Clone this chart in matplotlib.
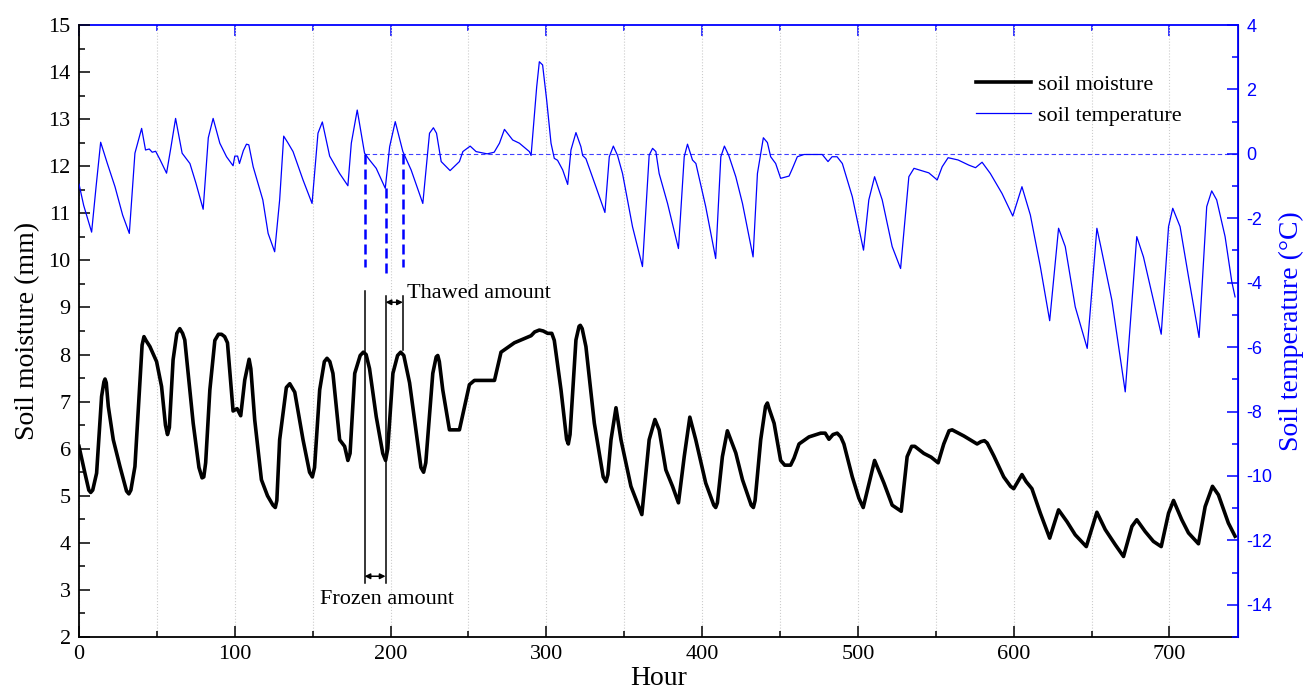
import numpy as np
import matplotlib
matplotlib.use("Agg")
import matplotlib.pyplot as plt
from matplotlib.ticker import MultipleLocator

# soil moisture (mm)
moist_hour = [0, 3.8, 6.3, 7.5, 8.8, 11.3, 14.5, 16, 16.7, 17.5, 18.8, 22, 26.3, 30.5, 32, 33.3,
              35.9, 39.1, 40.5, 41.7, 43, 45.5, 49.8, 53, 55.5, 56.8, 58, 60.4, 62.8, 64.7, 66.5,
              67.9, 73.3, 77, 79, 80.1, 81.3, 84, 87.2, 89.5, 91.5, 93.5, 95.3, 98.9, 101.5, 103.8,
              106.4, 109.2, 110.3, 112.8, 117.1, 121, 124.5, 126, 127, 128.8, 133.1, 135.3, 138.5,
              143.8, 148, 149.8, 151.2, 154.5, 157.5, 159.2, 161, 163, 167.3, 170.5, 172.6, 174,
              177, 180.5, 182.5, 184.3, 186.5, 190.8, 195, 196.8, 198.2, 201.5, 204.5, 206.5,
              208.5, 212.2, 216.5, 219.5, 221.2, 222.6, 227.1, 229.3, 230.3, 231.3, 233.5, 237.8,
              244.2, 250.6, 253.8, 266.7, 270.9, 279.5, 290.2, 292.5, 295.5, 298, 300.8, 303.5,
              305.1, 309.4, 313, 314.1, 315.2, 319, 321, 321.8, 323, 325.4, 330.8, 336.5, 338.3,
              339.5, 341.5, 344.7, 347.9, 354.3, 361.3, 366, 369.7, 372.4, 376.7, 381, 384.8,
              388.5, 392.1, 395.9, 402.3, 407.5, 408.7, 409.8, 413, 416.2, 421.6, 425.9, 431.5,
              432.9, 434, 437.6, 440.7, 441.9, 443, 446.2, 450.4, 453, 456.8, 459, 462.2, 468.6,
              476.1, 479, 481.4, 484, 486.7, 489, 491, 496.4, 500.6, 503.4, 510.7, 516.7, 522,
              527.8, 531.6, 534.5, 536.5, 542.3, 547, 551.5, 555.1, 558.5, 560.5, 568, 576.5, 579,
              581.2, 583, 587.2, 593.6, 598, 600, 605.3, 608, 611.7, 617.1, 623.1, 628.8, 634.2,
              639.5, 646.6, 653.4, 658.8, 665.2, 670.5, 675.9, 679, 684.4, 689.7, 694.7, 699.4,
              702.6, 707.9, 712.2, 718.6, 722.9, 727.6, 731.4, 737.8, 742.1]
moist_mm = [6.05, 5.48, 5.12, 5.07, 5.12, 5.48, 7.11, 7.42, 7.48, 7.4, 6.9, 6.19, 5.62, 5.1, 5.04, 5.12,
            5.62, 7.39, 8.2, 8.38, 8.3, 8.17, 7.85, 7.32, 6.5, 6.3, 6.45, 7.89, 8.45, 8.55, 8.45,
            8.31, 6.54, 5.6, 5.38, 5.4, 5.7, 7.25, 8.3, 8.43, 8.43, 8.38, 8.25, 6.8, 6.85, 6.7,
            7.46, 7.9, 7.7, 6.61, 5.34, 5.0, 4.8, 4.75, 4.9, 6.19, 7.3, 7.38, 7.2,
            6.19, 5.5, 5.4, 5.6, 7.25, 7.85, 7.92, 7.85, 7.6, 6.19, 6.05, 5.75, 5.9,
            7.6, 7.98, 8.05, 8.0, 7.7, 6.68, 5.9, 5.75, 6.0, 7.6, 7.98, 8.05,
            7.98, 7.4, 6.33, 5.6, 5.5, 5.7, 7.6, 7.95, 7.98, 7.85, 7.25, 6.4,
            6.4, 7.36, 7.45, 7.45, 8.05, 8.25, 8.4, 8.48, 8.52, 8.5, 8.45, 8.45,
            8.3, 7.25, 6.2, 6.1, 6.3, 8.31, 8.6, 8.62, 8.55, 8.17, 6.54, 5.4, 5.3,
            5.45, 6.19, 6.87, 6.19, 5.2, 4.6, 6.19, 6.62, 6.4, 5.55, 5.2, 4.85,
            5.83, 6.67, 6.19, 5.27, 4.8, 4.75, 4.85, 5.83, 6.38, 5.91, 5.34, 4.8,
            4.75, 4.9, 6.19, 6.9, 6.97, 6.85, 6.54, 5.75, 5.65, 5.65, 5.8, 6.1, 6.25,
            6.33, 6.33, 6.2, 6.3, 6.33, 6.25, 6.1, 5.4, 4.95, 4.75, 5.75, 5.27, 4.8,
            4.67, 5.83, 6.05, 6.05, 5.9, 5.82, 5.7, 6.1, 6.38, 6.4, 6.27, 6.1, 6.15,
            6.17, 6.12, 5.85, 5.4, 5.2, 5.15, 5.45, 5.3, 5.15, 4.63, 4.1, 4.70, 4.45,
            4.17, 3.92, 4.65, 4.28, 3.96, 3.71, 4.35, 4.49, 4.24, 4.03, 3.92, 4.63,
            4.90, 4.49, 4.21, 3.98, 4.77, 5.2, 5.02, 4.42, 4.14]

# soil temperature (degC)
temp_hour = [0, 3, 8.1, 11, 13.9, 18.2, 23.1, 28, 32.3, 35.9, 40.2, 42.7, 45.1, 47, 49.2, 51.9, 56.2,
             59, 62, 66.2, 71.2, 75, 79.7, 83, 86.1, 90.4, 94.7, 98.9, 100, 101.8, 103, 105.5, 107.5,
             109, 111.8, 118, 121.4, 125.6, 128.8, 131.4, 134, 137.4, 143.8, 149.6, 153.4, 156.2,
             160.9, 167.3, 172.6, 174.8, 178.6, 183.3, 186.5, 190.8, 196.6, 199.4, 203, 207.9,
             213.2, 220.7, 225, 227.5, 229.5, 232.5, 238.2, 244.2, 246.4, 251.1, 254.9, 262, 266.5,
             269.9, 273.1, 278.4, 282.7, 289.1, 290.2, 293.8, 295.5, 297.6, 300.2, 303, 305.1,
             307.2, 310.5, 313.7, 315.8, 319, 322.2, 323.3, 325.4, 331.8, 337.6, 340.4, 343,
             345.7, 348.9, 355.3, 361.7, 366, 368.2, 370.3, 372.4, 377.8, 384.8, 388.5, 390.6,
             393.8, 396, 402.3, 408.7, 412, 414.3, 417.1, 421.6, 425.9, 432.7, 435.5, 439.3,
             441.9, 444, 447.2, 450.4, 455.8, 458, 461.1, 465.4, 477.1, 480.8, 483.4, 486.6, 490,
             496.4, 503.6, 507, 510.7, 515.6, 522, 527.4, 532.7, 536, 545.5, 550.9, 554.1, 557.9,
             564.3, 571.2, 575.5, 579.7, 585, 592.5, 599.4, 605.3, 610.7, 617.1, 623.1, 628.8,
             633.1, 639.5, 647.2, 653.4, 656, 663, 671.6, 679, 683.3, 688.7, 694.7, 699.4, 702.1,
             706.8, 712.2, 719, 723.9, 727.1, 730.3, 735.7, 740, 742.1]
temp_c = [-0.94, -1.6, -2.43, -1.0, 0.36, -0.30, -1.02, -1.9, -2.47, 0.02, 0.79, 0.12, 0.15, 0.05,
          0.08, -0.17, -0.6, 0.2, 1.10, 0.02, -0.30, -0.9, -1.72, 0.5, 1.10, 0.33, -0.09, -0.37,
          -0.07, -0.07, -0.3, 0.1, 0.30, 0.28, -0.4, -1.43, -2.47, -3.04, -1.43, 0.55, 0.35, 0.07,
          -0.81, -1.54, 0.64, 0.99, -0.07, -0.61, -0.99, 0.33, 1.36, 0.02, -0.19, -0.45, -1.07,
          0.22, 1.0, 0.07, -0.5, -1.54, 0.64, 0.81, 0.64, -0.24, -0.52, -0.24, 0.07, 0.24, 0.07,
          0.0, 0.05, 0.33, 0.76, 0.43, 0.33, 0.07, -0.05, 2.08, 2.86, 2.76, 1.67, 0.33, -0.14,
          -0.2, -0.5, -0.95, 0.12, 0.66, 0.22, -0.05, -0.15, -1.02, -1.82, -0.09, 0.24,
          -0.05, -0.61, -2.26, -3.5, -0.04, 0.17, 0.07, -0.61, -1.54, -2.94, -0.09, 0.30,
          -0.19, -0.3, -1.64, -3.25, -0.09, 0.24, -0.05, -0.71, -1.54, -3.2, -0.61, 0.50,
          0.35, -0.09, -0.3, -0.76, -0.69, -0.45, -0.09, -0.02, -0.02, -0.24, -0.09, -0.09, -0.3,
          -1.33, -2.99, -1.43, -0.71, -1.43, -2.88, -3.56, -0.71, -0.45, -0.59, -0.81, -0.4, -0.12,
          -0.19, -0.35, -0.43, -0.26, -0.61, -1.23, -1.93, -1.02, -1.9, -3.5, -5.18, -2.31,
          -2.88, -4.75, -6.04, -2.31, -2.9, -4.54, -7.39, -2.57, -3.2, -4.33, -5.6, -2.26, -1.69,
          -2.26, -3.81, -5.7, -1.64, -1.15, -1.43, -2.57, -3.97, -4.44]

# freeze / thaw marker hours and the temperature span of each dashed marker
event_hours = [183.3, 196.8, 207.9]
event_temp_top = [0.0, -1.07, 0.0]
event_temp_bottom = [-3.5, -3.76, -3.5]

plt.rcParams['font.family'] = ['Liberation Serif', 'DejaVu Serif']
plt.rcParams['axes.unicode_minus'] = False

fig = plt.figure(figsize=(13.08, 6.89), dpi=100)
ax = fig.add_axes([0.0604, 0.0755, 0.8861, 0.8882])
ax2 = ax.twinx()

ax.plot(moist_hour, moist_mm, color='black', lw=2.6, solid_joinstyle='round', label='soil moisture')
ax2.plot(temp_hour, temp_c, color='blue', lw=0.9, label='soil temperature')

# freezing line
ax2.plot([event_hours[0], 744], [0, 0], color='blue', lw=0.8, alpha=0.75, dashes=(4, 2.5))

# dashed markers on the temperature curve
for h, t0, t1 in zip(event_hours, event_temp_top, event_temp_bottom):
    ax2.plot([h, h], [t0, t1], color='blue', lw=1.8, dashes=(4, 2))

# black guide lines on the moisture curve
ax.plot([event_hours[0]] * 2, [3.15, 9.34], color='black', lw=1.1)
ax.plot([event_hours[1]] * 2, [3.15, 9.25], color='black', lw=1.1)
ax.plot([event_hours[2]] * 2, [8.1, 9.25], color='black', lw=1.1)
arrow = dict(arrowstyle='<|-|>', mutation_scale=8, lw=1.1, color='black', shrinkA=0, shrinkB=0)
ax.annotate('', xy=(event_hours[0], 3.29), xytext=(event_hours[1], 3.29), arrowprops=arrow)
ax.annotate('', xy=(event_hours[1], 9.11), xytext=(event_hours[2], 9.11), arrowprops=arrow)
ax.text(210.8, 9.29, 'Thawed amount', fontsize=16, ha='left', va='center')
ax.text(198, 2.79, 'Frozen amount', fontsize=16, ha='center', va='center')

ax.set_xlim(0, 744)
ax.set_ylim(2, 15)
ax2.set_ylim(-15, 4)

ax.xaxis.set_major_locator(MultipleLocator(100))
ax.xaxis.set_minor_locator(MultipleLocator(50))
ax.yaxis.set_major_locator(MultipleLocator(1))
ax.yaxis.set_minor_locator(MultipleLocator(0.5))
ax2.yaxis.set_major_locator(MultipleLocator(2))
ax2.yaxis.set_minor_locator(MultipleLocator(1))

ax.grid(axis='x', which='both', color='#cccccc', ls=':', lw=0.8)
ax.set_axisbelow(True)

ax.tick_params(axis='both', which='major', direction='in', length=8, width=1.1, labelsize=16, pad=6)
ax.tick_params(axis='both', which='minor', direction='in', length=4, width=1.1)
ax2.tick_params(axis='y', which='major', direction='in', length=8, width=1.1, colors='blue',
                labelsize=13, pad=6)
ax2.tick_params(axis='y', which='minor', direction='in', length=4, width=1.1, colors='blue')
for lab in ax2.get_yticklabels():
    lab.set_family('Liberation Sans')

# blue top frame with ticks
top = ax.secondary_xaxis('top')
top.xaxis.set_major_locator(MultipleLocator(100))
top.xaxis.set_minor_locator(MultipleLocator(50))
top.tick_params(axis='x', which='major', direction='in', length=8, width=1.1, colors='blue',
                labeltop=False)
top.tick_params(axis='x', which='minor', direction='in', length=4, width=1.1, colors='blue')
top.spines['top'].set_color('blue')
top.spines['top'].set_linewidth(1.3)

ax.spines['top'].set_visible(False)
ax2.spines['top'].set_visible(False)
ax2.spines['left'].set_visible(False)
ax2.spines['bottom'].set_visible(False)
ax.spines['left'].set_linewidth(1.3)
ax.spines['bottom'].set_linewidth(1.3)
ax2.spines['right'].set_color('blue')
ax2.spines['right'].set_linewidth(1.3)

ax.set_xlabel('Hour', fontsize=20, labelpad=1)
ax.set_ylabel('Soil moisture (mm)', fontsize=20, labelpad=6)
ax2.set_ylabel('Soil temperature (\u00b0C)', fontsize=20, color='blue', labelpad=5)

h1, l1 = ax.get_legend_handles_labels()
h2, l2 = ax2.get_legend_handles_labels()
ax2.legend(h1 + h2, l1 + l2, loc='upper left', bbox_to_anchor=(0.746, 0.892),
           bbox_transform=fig.transFigure, frameon=False, fontsize=16, handlelength=2.5,
           handletextpad=0.3, labelspacing=0.45, borderpad=0, borderaxespad=0)

fig.savefig('out.png', dpi=100)
